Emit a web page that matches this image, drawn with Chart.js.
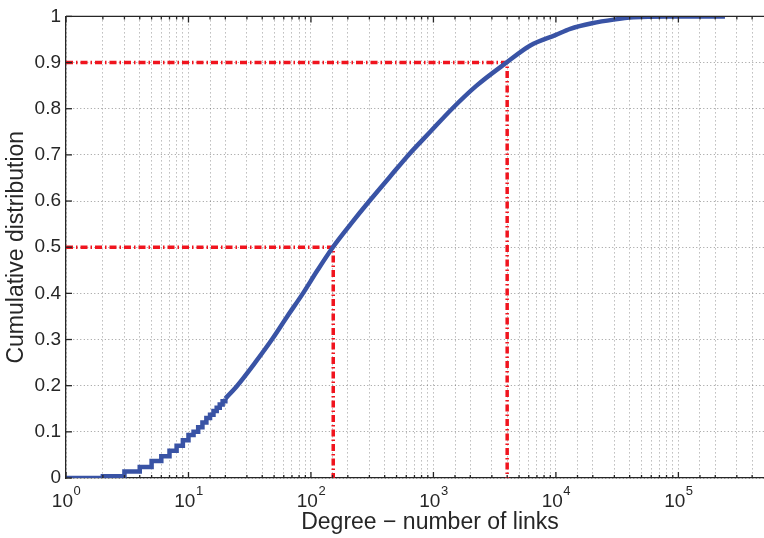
<!DOCTYPE html>
<html>
<head>
<meta charset="utf-8">
<script src="https://cdn.jsdelivr.net/npm/chart.js@4"></script>
<style>
  html, body { margin: 0; padding: 0; background: #fff; }
  #wrap { width: 764px; height: 538px; }
</style>
</head>
<body>
<div id="wrap"><canvas id="cdf"></canvas></div>
<script>
// Low-degree part of the CDF (visible stair steps)
const stepDegree = [1, 2, 3, 4, 5, 6, 7, 8, 9, 10, 11, 12, 13, 14, 15, 16, 17, 18, 19, 20];
const stepCdf = [0, 0.004, 0.014, 0.024, 0.037, 0.047, 0.059, 0.070, 0.082, 0.093,
                 0.100, 0.110, 0.120, 0.130, 0.137, 0.145, 0.152, 0.159, 0.166, 0.172];

// Rest of the CDF (steps too small to see)
const curveDegree = [20, 25, 35, 48, 64, 86, 113, 151, 211, 300, 433, 626, 942, 1420,
                     2250, 3950, 6180, 10000, 13100, 19700, 29600, 43100, 80000, 240000];
const curveCdf = [0.172, 0.200, 0.250, 0.300, 0.350, 0.400, 0.450, 0.500, 0.550, 0.600,
                  0.650, 0.700, 0.750, 0.800, 0.850, 0.900, 0.937, 0.960, 0.973, 0.985,
                  0.993, 0.998, 1.000, 1.000];

// Median and 90th percentile markers
const markerDegree = [152, 4000];
const markerCdf = [0.5, 0.9];

const xDecades = [1, 10, 100, 1000, 10000, 100000];
const xExponents = ['0', '1', '2', '3', '4', '5'];
const yTicks = [0, 0.1, 0.2, 0.3, 0.4, 0.5, 0.6, 0.7, 0.8, 0.9, 1];

const FONT = '"Liberation Sans", Arial, Helvetica, sans-serif';
const blue = '#3953a5';
const red = '#f0141e';
const axisCol = '#262626';
const gridCol = 'rgba(70,70,70,0.55)';

function pts(xs, ys) {
    return xs.map((x, i) => ({ x: x, y: ys[i] }));
}

const markerSets = markerDegree.map((d, i) => ({
    data: [{ x: 1, y: markerCdf[i] }, { x: d, y: markerCdf[i] }, { x: d, y: 0 }],
    borderColor: red,
    borderWidth: 3.5,
    borderDash: [7, 3, 1.5, 3],
    pointRadius: 0,
    tension: 0
}));

// Inward ticks, top border and superscript labels, MATLAB style
const matlabAxes = {
    id: 'matlabAxes',
    afterDraw(chart) {
        const ctx = chart.ctx;
        const area = chart.chartArea;
        const xs = chart.scales.x;
        const ys = chart.scales.y;
        ctx.save();
        ctx.strokeStyle = axisCol;
        ctx.lineWidth = 1.3;

        // top border
        ctx.beginPath();
        ctx.moveTo(area.left, area.top);
        ctx.lineTo(area.right, area.top);
        ctx.stroke();

        // x ticks (top and bottom)
        xs.ticks.forEach(t => {
            const px = xs.getPixelForValue(t.value);
            if (px > area.right - 1) return;
            const major = xDecades.includes(t.value);
            const len = major ? 6 : 3;
            ctx.beginPath();
            ctx.moveTo(px, area.bottom);
            ctx.lineTo(px, area.bottom - len);
            ctx.moveTo(px, area.top);
            ctx.lineTo(px, area.top + len);
            ctx.stroke();
        });

        // y ticks (left)
        yTicks.forEach(v => {
            const py = ys.getPixelForValue(v);
            ctx.beginPath();
            ctx.moveTo(area.left, py);
            ctx.lineTo(area.left + 6, py);
            ctx.stroke();
        });

        // x tick labels 10^n
        ctx.fillStyle = axisCol;
        ctx.textBaseline = 'alphabetic';
        xDecades.forEach((d, i) => {
            const px = xs.getPixelForValue(d);
            ctx.font = '19px ' + FONT;
            const wBase = ctx.measureText('10').width;
            ctx.font = '13px ' + FONT;
            const wExp = ctx.measureText(xExponents[i]).width;
            const start = px - (wBase + wExp) / 2;
            ctx.textAlign = 'left';
            ctx.font = '19px ' + FONT;
            ctx.fillText('10', start, 507);
            ctx.font = '13px ' + FONT;
            ctx.fillText(xExponents[i], start + wBase + 0.5, 495);
        });

        // x axis title
        ctx.font = '23px ' + FONT;
        ctx.textAlign = 'center';
        ctx.fillText('Degree \u2212 number of links', 430, 529);
        ctx.restore();
    }
};

new Chart(document.getElementById('cdf'), {
    type: 'line',
    data: {
        datasets: [
            {
                data: pts(stepDegree, stepCdf),
                borderColor: blue,
                borderWidth: 4.5,
                pointRadius: 0,
                stepped: true
            },
            {
                data: pts(curveDegree, curveCdf),
                borderColor: blue,
                borderWidth: 4.5,
                pointRadius: 0,
                cubicInterpolationMode: 'monotone'
            },
            ...markerSets
        ]
    },
    options: {
        responsive: true,
        maintainAspectRatio: false,
        animation: false,
        events: [],
        layout: { padding: { top: 14, right: 0, left: 0, bottom: 0 } },
        plugins: { legend: { display: false }, tooltip: { enabled: false } },
        scales: {
            x: {
                type: 'logarithmic',
                min: 1,
                max: 500000,
                afterFit: s => { s.height = 60; },
                ticks: { display: false },
                grid: { color: gridCol, lineWidth: 1, drawTicks: false },
                border: { display: true, color: axisCol, width: 1.3, dash: [1, 3] }
            },
            y: {
                min: 0,
                max: 1,
                afterFit: s => { s.width = 66; },
                afterBuildTicks: s => { s.ticks = yTicks.map(v => ({ value: v })); },
                ticks: {
                    color: axisCol,
                    padding: 5,
                    font: { family: FONT, size: 19 },
                    callback: v => (v === 0 || v === 1) ? String(v) : v.toFixed(1)
                },
                grid: { color: gridCol, lineWidth: 1, drawTicks: false },
                border: { display: true, color: axisCol, width: 1.3, dash: [1, 2.5] },
                title: {
                    display: true,
                    text: 'Cumulative distribution',
                    color: axisCol,
                    font: { family: FONT, size: 23 },
                    padding: { top: 3 }
                }
            }
        }
    },
    plugins: [matlabAxes]
});
</script>
</body>
</html>
